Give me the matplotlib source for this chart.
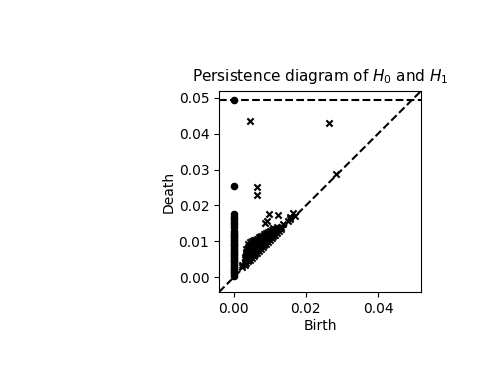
import matplotlib
matplotlib.use("Agg")
import matplotlib.pyplot as plt
import numpy as np

# axis range and the line that stands for "infinite" death
lim_lo, lim_hi = -0.0041, 0.0519
inf_level = 0.0494

# H0: every class is born at 0
h0_death = [
    0.0004, 0.0009, 0.0014, 0.0019, 0.0024, 0.0029, 0.0034, 0.0039, 0.0044,
    0.0049, 0.0054, 0.0059, 0.0064, 0.0069, 0.0074, 0.0079, 0.0084, 0.0089,
    0.0094, 0.0099, 0.0104, 0.0109, 0.0114, 0.0119, 0.0124, 0.0129,
    0.0140, 0.0148, 0.0155, 0.0162, 0.0168, 0.0175, 0.0253, inf_level,
]
h0_birth = [0.0] * len(h0_death)

# H1: dense cloud near the diagonal, written row by row (birth, deaths)
h1_birth = [
    0.0024, 0.0024,
    0.0030, 0.0030, 0.0030, 0.0030,
    0.0035, 0.0035, 0.0035, 0.0035, 0.0035, 0.0035,
    0.0040, 0.0040, 0.0040, 0.0040, 0.0040, 0.0040, 0.0040,
    0.0045, 0.0045, 0.0045, 0.0045, 0.0045, 0.0045, 0.0045,
    0.0050, 0.0050, 0.0050, 0.0050, 0.0050, 0.0050, 0.0050,
    0.0055, 0.0055, 0.0055, 0.0055, 0.0055, 0.0055, 0.0055,
    0.0060, 0.0060, 0.0060, 0.0060, 0.0060, 0.0060,
    0.0065, 0.0065, 0.0065, 0.0065, 0.0065, 0.0065,
    0.0070, 0.0070, 0.0070, 0.0070, 0.0070, 0.0070,
    0.0075, 0.0075, 0.0075, 0.0075, 0.0075, 0.0075,
    0.0080, 0.0080, 0.0080, 0.0080, 0.0080,
    0.0085, 0.0085, 0.0085, 0.0085, 0.0085,
    0.0090, 0.0090, 0.0090, 0.0090, 0.0090,
    0.0095, 0.0095, 0.0095, 0.0095, 0.0095,
    0.0100, 0.0100, 0.0100, 0.0100,
    0.0105, 0.0105, 0.0105, 0.0105,
    0.0110, 0.0110, 0.0110, 0.0110,
    0.0115, 0.0115, 0.0115,
    0.0120, 0.0120, 0.0120,
    0.0125, 0.0125,
    0.0130, 0.0130,
]
h1_death = [
    0.0028, 0.0035,
    0.0034, 0.0042, 0.0050, 0.0057,
    0.0039, 0.0047, 0.0055, 0.0063, 0.0071, 0.0078,
    0.0044, 0.0052, 0.0060, 0.0068, 0.0076, 0.0084, 0.0092,
    0.0049, 0.0057, 0.0065, 0.0073, 0.0081, 0.0089, 0.0097,
    0.0054, 0.0062, 0.0070, 0.0078, 0.0086, 0.0094, 0.0101,
    0.0059, 0.0067, 0.0075, 0.0083, 0.0091, 0.0098, 0.0104,
    0.0064, 0.0072, 0.0080, 0.0088, 0.0096, 0.0104,
    0.0069, 0.0077, 0.0085, 0.0093, 0.0101, 0.0108,
    0.0074, 0.0082, 0.0090, 0.0098, 0.0106, 0.0112,
    0.0079, 0.0087, 0.0095, 0.0103, 0.0111, 0.0115,
    0.0084, 0.0092, 0.0100, 0.0108, 0.0116,
    0.0089, 0.0097, 0.0105, 0.0113, 0.0120,
    0.0094, 0.0102, 0.0110, 0.0118, 0.0124,
    0.0099, 0.0107, 0.0115, 0.0122, 0.0127,
    0.0104, 0.0112, 0.0120, 0.0129,
    0.0109, 0.0117, 0.0125, 0.0132,
    0.0114, 0.0122, 0.0130, 0.0136,
    0.0119, 0.0127, 0.0134,
    0.0124, 0.0132, 0.0139,
    0.0129, 0.0136,
    0.0134, 0.0141,
]

# H1 points standing out from the cloud
h1_out_birth = [0.0046, 0.0265, 0.0283, 0.0063, 0.0063, 0.0086, 0.0091, 0.0097,
                0.0123, 0.0137, 0.0156, 0.0165, 0.0169, 0.0156, 0.0150]
h1_out_death = [0.0435, 0.0430, 0.0287, 0.0252, 0.0229, 0.0150, 0.0158, 0.0175,
                0.0173, 0.0148, 0.0169, 0.0178, 0.0170, 0.0163, 0.0158]

fig = plt.figure(figsize=(4.79, 3.77), dpi=100)
ax = fig.add_axes([219 / 479, 85 / 377, 202 / 479, 201 / 377])

ax.plot([lim_lo, lim_hi], [lim_lo, lim_hi], "k--")
ax.plot([lim_lo, lim_hi], [inf_level, inf_level], "k--")

ax.scatter(h0_birth, h0_death, s=20, c="k", marker="o")
ax.scatter(h1_birth + h1_out_birth, h1_death + h1_out_death, s=20, c="k", marker="x")

ax.set_xlim(lim_lo, lim_hi)
ax.set_ylim(lim_lo, lim_hi)
ax.set_xticks([0.0, 0.02, 0.04])
ax.set_yticks([0.0, 0.01, 0.02, 0.03, 0.04, 0.05])
ax.set_xlabel("Birth", labelpad=2)
ax.set_ylabel("Death", labelpad=2)
ax.set_title("Persistence diagram of $H_0$ and $H_1$", fontsize=11, pad=7)

fig.savefig("out.png", dpi=100)
